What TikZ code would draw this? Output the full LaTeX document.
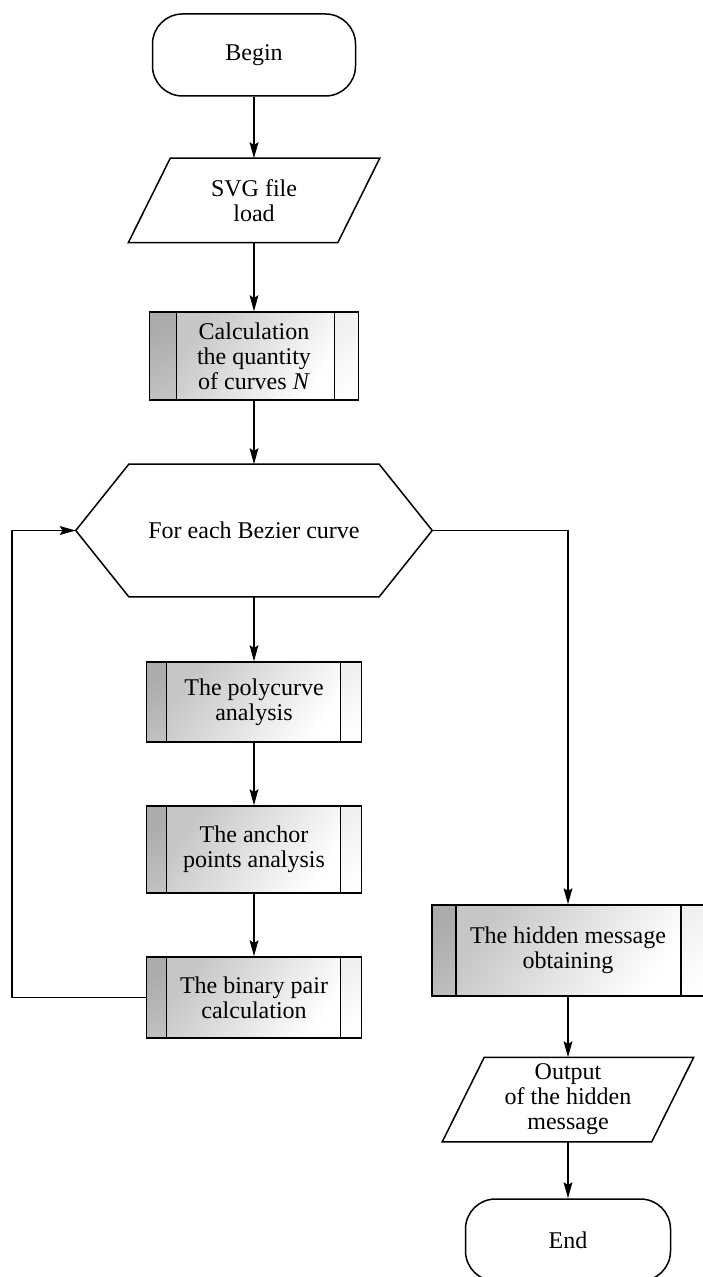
\documentclass[tikz,border=0pt]{standalone}
\usepackage{fontspec}
\setmainfont{Liberation Serif}
\usetikzlibrary{arrows.meta}
\begin{document}
\begin{tikzpicture}[x=0.5pt, y=-0.5pt,
  base/.style={font=\fontsize{12}{12.5}\selectfont, align=center, inner sep=0pt, line width=0.75pt},
  term/.style={base, draw, rounded corners=15pt},
  frame/.style={base},
  outline/.style={line width=0.75pt, line join=miter},
  arr/.style={line width=0.75pt, -{Stealth[length=8pt, width=4.4pt, inset=1.4pt]}},
  pproc/.style 2 args={base, draw,
    path picture={
      \shade[top color=gray!65, bottom color=gray!30, shading angle=25]
        (path picture bounding box.south west) rectangle ([xshift=#1]path picture bounding box.north west);
      \shade[top color=gray!45, middle color=white, bottom color=white, shading angle=55]
        ([xshift=#1]path picture bounding box.south west) rectangle ([xshift=-#2]path picture bounding box.north east);
      \shade[top color=gray!12, bottom color=white, shading angle=40]
        ([xshift=-#2]path picture bounding box.south east) rectangle (path picture bounding box.north east);
      \draw[line width=0.75pt] ([xshift=#1]path picture bounding box.south west) -- ([xshift=#1]path picture bounding box.north west);
      \draw[line width=0.75pt] ([xshift=-#2]path picture bounding box.south east) -- ([xshift=-#2]path picture bounding box.north east);
    }}
]
\useasboundingbox (0,0) rectangle (702,1277);

% main column
\node[term, minimum width=101.5pt, minimum height=41pt] (begin) at (254,55) {Begin};
\node[frame, minimum width=125pt, minimum height=41.5pt] (svg) at (254,200.5) {SVG file\\load};
\node[pproc={13.5pt}{12pt}, minimum width=104.5pt, minimum height=44pt] (calc) at (254,356)
  {Calculation\\the quantity\\of curves \textit{N}};
\node[frame, minimum width=177.5pt, minimum height=65.5pt] (hex) at (254,530.5) {For each Bezier curve};
\node[pproc={10pt}{10.5pt}, minimum width=107.5pt, minimum height=40pt] (poly) at (254,702)
  {The polycurve\\analysis};
\node[pproc={10pt}{10.5pt}, minimum width=107.5pt, minimum height=43.5pt] (anchor) at (254,849.5)
  {The anchor\\points analysis};
\node[pproc={10pt}{10.5pt}, minimum width=107.5pt, minimum height=40.5pt] (binary) at (254,997.5)
  {The binary pair\\calculation};

% right column
\node[pproc={12pt}{11.5pt}, minimum width=136pt, minimum height=45.5pt] (hidden) at (568,950.5)
  {The hidden message\\obtaining};
\node[frame, minimum width=125pt, minimum height=41.5pt] (output) at (568,1099.5)
  {Output\\of the hidden\\message};
\node[term, minimum width=102.5pt, minimum height=41pt] (end) at (568,1240) {End};

% shape outlines
\draw[outline] (svg.south west) -- ([xshift=-21pt]svg.south east) -- (svg.north east)
  -- ([xshift=21pt]svg.north west) -- cycle;
\draw[outline] (output.south west) -- ([xshift=-21pt]output.south east) -- (output.north east)
  -- ([xshift=21pt]output.north west) -- cycle;
\draw[outline] (hex.west) -- ([xshift=26.5pt]hex.north west) -- ([xshift=-26.5pt]hex.north east)
  -- (hex.east) -- ([xshift=-26.5pt]hex.south east) -- ([xshift=26.5pt]hex.south west) -- cycle;

% connectors
\draw[arr] (begin.south) -- (svg.north);
\draw[arr] (svg.south) -- (calc.north);
\draw[arr] (calc.south) -- (hex.north);
\draw[arr] (hex.south) -- (poly.north);
\draw[arr] (poly.south) -- (anchor.north);
\draw[arr] (anchor.south) -- (binary.north);
\coordinate (loop) at (12,997.5);
\draw[arr] (binary.west) -- (loop) |- (hex.west);
\draw[arr] (hex.east) -| (hidden.north);
\draw[arr] (hidden.south) -- (output.north);
\draw[arr] (output.south) -- (end.north);
\end{tikzpicture}
\end{document}
